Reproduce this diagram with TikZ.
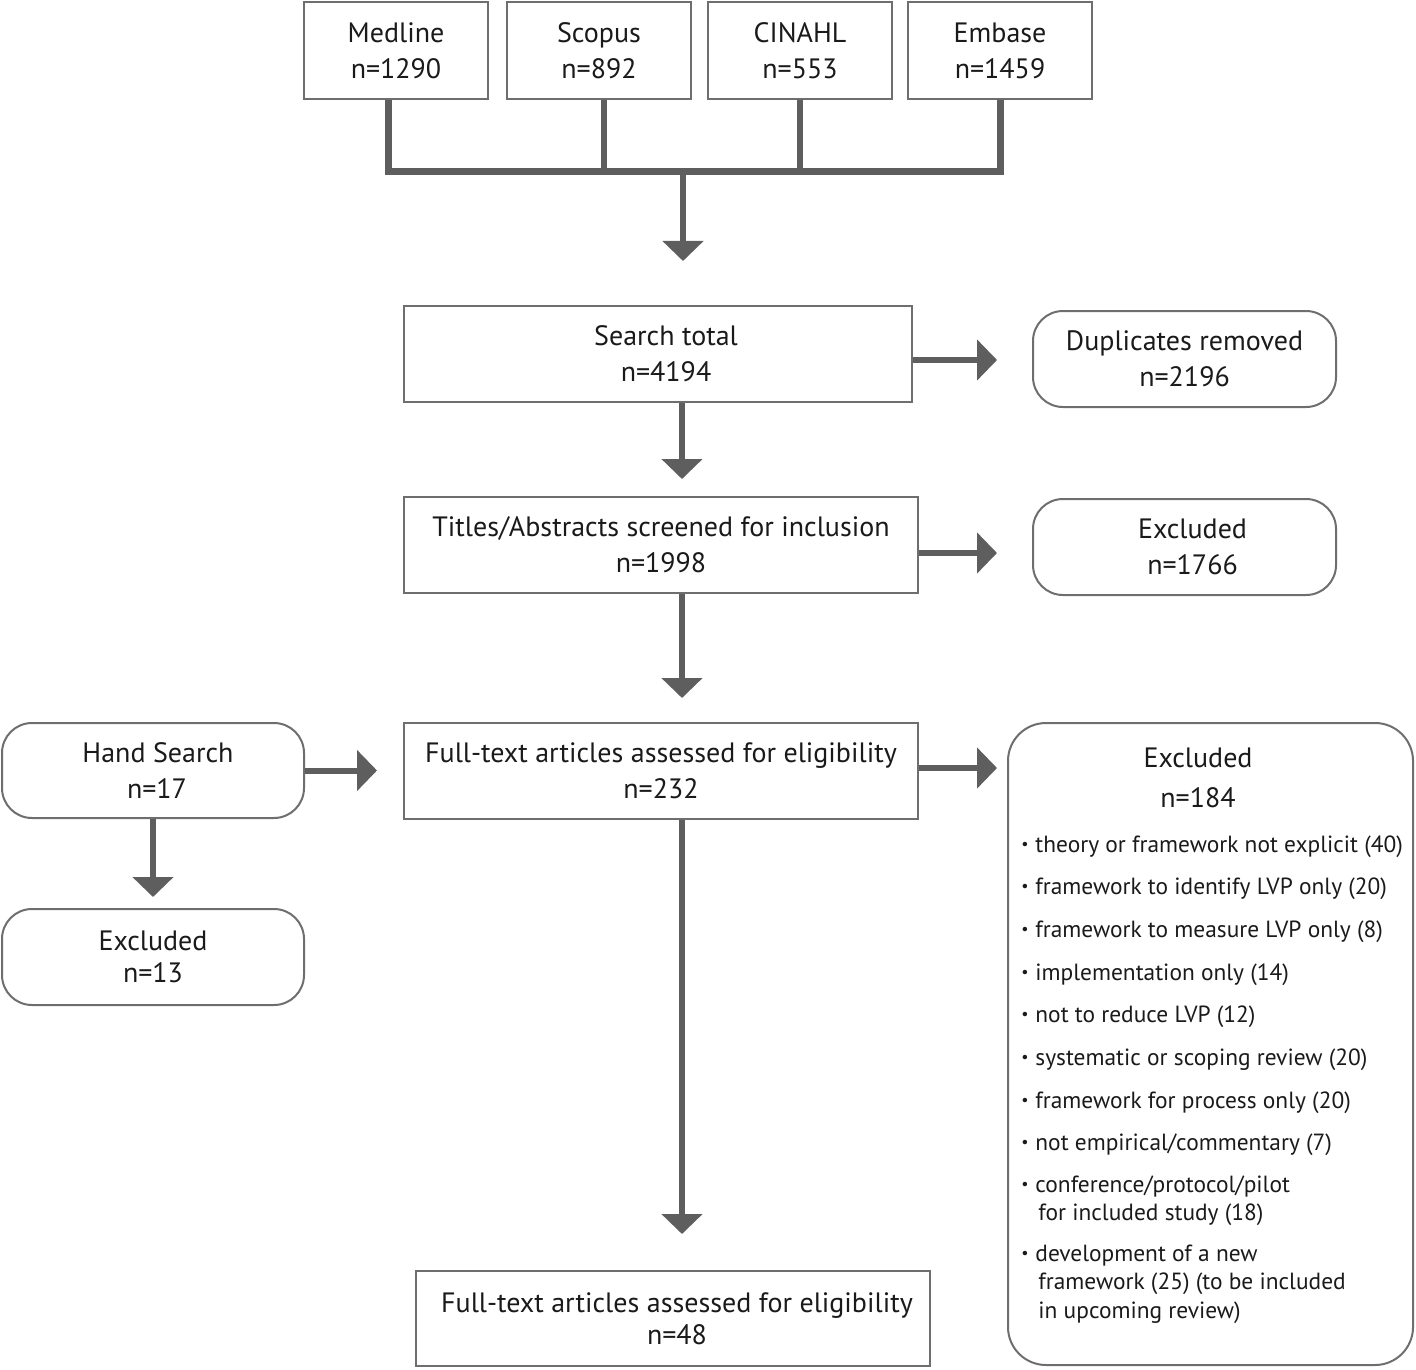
\documentclass[tikz,border=0pt]{standalone}
\usepackage{fontspec}
\setmainfont{PT Sans}
\usetikzlibrary{arrows.meta,calc}
\definecolor{boxgray}{HTML}{6E6E6E}
\definecolor{lngray}{HTML}{5E5E5E}
\definecolor{txt}{HTML}{1A1A1A}
\newcommand\bul{\makebox[7pt][l]{\raisebox{1.2pt}{\fontsize{8}{8}\selectfont •}}}
\tikzset{
 basebox/.style={draw=boxgray, line width=1pt, text=txt, inner sep=0pt, align=center, font=\fontsize{14}{18}\selectfont},
 sqbox/.style={basebox},
 rbox/.style={basebox, rounded corners=15pt},
 conn/.style={draw=lngray, line width=3pt},
 arr/.style={conn, -{Triangle[length=10pt,width=20pt]}},
 lab/.style={text=txt, inner sep=0pt, font=\fontsize{14}{18}\selectfont},
 item/.style={lab, anchor=base west, font=\fontsize{11.7}{14}\selectfont},
}
\begin{document}
\begin{tikzpicture}[x=0.5pt,y=-0.5pt]
\useasboundingbox (0,0) rectangle (1416,1369);
% databases
\node[sqbox, minimum width=92pt, minimum height=48.5pt] (med) at (396,50.5) {Medline\\n=1290};
\node[sqbox, minimum width=92pt, minimum height=48.5pt] (sco) at (599,50.5) {Scopus\\n=892};
\node[sqbox, minimum width=92pt, minimum height=48.5pt] (cin) at (800,50.5) {CINAHL\\n=553};
\node[sqbox, minimum width=92pt, minimum height=48.5pt] (emb) at (1000,50.5) {Embase\\n=1459};
% main column
\node[sqbox, minimum width=254pt, minimum height=48pt] (search) at (658,354) {\hspace*{8pt}Search total\\\hspace*{8pt}n=4194};
\node[rbox, minimum width=151.5pt, minimum height=48pt] (dup) at (1184.5,359) {Duplicates removed\\n=2196};
\node[sqbox, minimum width=257pt, minimum height=48pt] (titles) at (661,545) {Titles/Abstracts screened for inclusion\\n=1998};
\node[rbox, minimum width=151.5pt, minimum height=48pt] (exa) at (1184.5,547) {\hspace*{8pt}Excluded\\\hspace*{8pt}n=1766};
\node[sqbox, minimum width=257pt, minimum height=48pt] (full) at (661,771) {Full-text articles assessed for eligibility\\n=232};
\node[rbox, minimum width=151pt, minimum height=47.5pt] (hand) at (153,770.5) {\hspace*{5pt}Hand Search\\\hspace*{4pt}n=17};
\node[rbox, minimum width=151pt, minimum height=48pt, font=\fontsize{14}{16}\selectfont] (exb) at (153,957) {Excluded\\n=13};
\node[rbox, rounded corners=19pt, minimum width=202.5pt, minimum height=321pt] (exc) at (1210.5,1044) {};
\node[sqbox, minimum width=257pt, minimum height=47.5pt, font=\fontsize{14}{16}\selectfont] (final) at (673,1318.5) {\hspace*{4pt}Full-text articles assessed for eligibility\\\hspace*{4pt}n=48};
% big excluded box text
\node[lab, anchor=base] (ect) at (1198,767) {Excluded};
\node[lab, anchor=base] (ecn) at (1198,807) {n=184};
\node[item] (i1) at (1021,852) {\bul theory or framework not explicit (40)};
\node[item] (i2) at (1021,894) {\bul framework to identify LVP only (20)};
\node[item] (i3) at (1021,937) {\bul framework to measure LVP only (8)};
\node[item] (i4) at (1021,980) {\bul implementation only (14)};
\node[item] (i5) at (1021,1022) {\bul not to reduce LVP (12)};
\node[item] (i6) at (1021,1065) {\bul systematic or scoping review (20)};
\node[item] (i7) at (1021,1108) {\bul framework for process only (20)};
\node[item] (i8) at (1021,1150) {\bul not empirical/commentary (7)};
\node[item] (i9) at (1021,1192) {\bul conference/protocol/pilot};
\node[item] (i9b) at (1038,1220) {for included study (18)};
\node[item] (i10) at (1021,1261) {\bul development of a new};
\node[item] (i10b) at (1038,1289) {framework (25) (to be included};
\node[item] (i10c) at (1038,1318) {in upcoming review)};
% top tree
\coordinate (bj) at (683,172);
\draw[conn, line width=3.5pt] ([xshift=-4pt]med.south) |- (bj) -| (emb.south);
\draw[conn] ([xshift=2.5pt]sco.south) -- ([xshift=2.5pt]sco.south |- bj);
\draw[conn] (cin.south) -- (cin.south |- bj);
\draw[arr, shorten >=22pt] (bj) -- (bj |- search.north);
% arrows
\draw[arr, shorten >=17.5pt] ([yshift=-3pt]search.east) -- ([yshift=-3pt]search.east -| dup.west);
\draw[arr, shorten >=8.5pt] ([xshift=12pt]search.south) -- ([xshift=12pt]search.south |- titles.north);
\draw[arr, shorten >=17.5pt] ([yshift=-4pt]titles.east) -- ([yshift=-4pt]titles.east -| exa.west);
\draw[arr, shorten >=12pt] ([xshift=10.5pt]titles.south) -- ([xshift=10.5pt]titles.south |- full.north);
\draw[arr, shorten >=13pt] (hand.east) -- (hand.east -| full.west);
\draw[arr, shorten >=5.5pt] (hand.south) -- (exb.north);
\draw[arr, shorten >=5pt] ([yshift=1.5pt]full.east) -- ([yshift=1.5pt]full.east -| exc.west);
\draw[arr, shorten >=18pt] ([xshift=10.5pt]full.south) -- ([xshift=10.5pt]full.south |- final.north);
\end{tikzpicture}
\end{document}
